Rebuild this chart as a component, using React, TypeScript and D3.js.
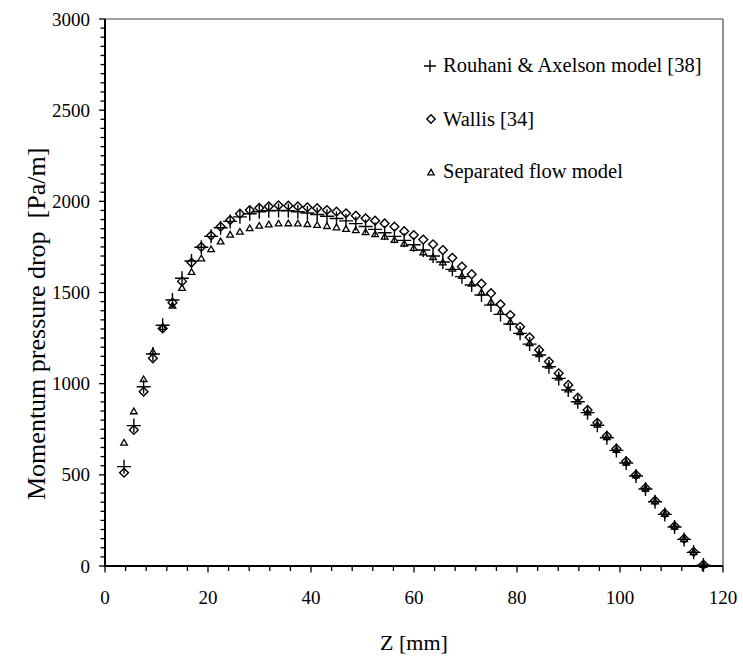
import React from "react";
import * as d3 from "d3";

const zValues: number[] = [
  3.7, 5.6, 7.5, 9.3, 11.2, 13.1, 14.95, 16.8, 18.7, 20.6,
  22.45, 24.3, 26.2, 28.1, 29.95, 31.8, 33.7, 35.6, 37.45, 39.3,
  41.2, 43.1, 44.95, 46.8, 48.7, 50.6, 52.45, 54.3, 56.2, 58.1,
  59.95, 61.8, 63.7, 65.6, 67.45, 69.3, 71.2, 73.1, 74.95, 76.8,
  78.7, 80.6, 82.45, 84.3, 86.2, 88.1, 89.95, 91.8, 93.7, 95.6,
  97.45, 99.3, 101.2, 103.1, 104.95, 106.8, 108.7, 110.6, 112.45, 114.3,
  116.2,
];

const rouhani: number[] = [
  545, 770, 983, 1163, 1320, 1459, 1578, 1673, 1748, 1808,
  1855, 1890, 1915, 1932, 1943, 1948, 1950, 1948, 1943, 1936,
  1928, 1918, 1906, 1893, 1878, 1862, 1846, 1828, 1808, 1786,
  1762, 1733, 1700, 1667, 1627, 1587, 1541, 1486, 1431, 1380,
  1327, 1276, 1217, 1157, 1093, 1029, 965, 901, 841, 772,
  703, 634, 565, 494, 422, 352, 283, 214, 146, 75,
  5,
];

const wallis: number[] = [
  512, 746, 956, 1139, 1303, 1444, 1561, 1664, 1750, 1812,
  1861, 1897, 1932, 1952, 1964, 1972, 1978, 1976, 1972, 1967,
  1962, 1952, 1943, 1934, 1921, 1907, 1894, 1879, 1861, 1836,
  1815, 1790, 1764, 1733, 1690, 1642, 1600, 1548, 1496, 1435,
  1376, 1312, 1254, 1185, 1121, 1057, 993, 923, 856, 785,
  713, 643, 574, 500, 428, 358, 289, 219, 150, 78,
  8,
];

const separated: number[] = [
  676, 848, 1024, 1175, 1311, 1428, 1525, 1612, 1687, 1737,
  1780, 1817, 1833, 1852, 1866, 1873, 1878, 1879, 1878, 1875,
  1870, 1864, 1857, 1848, 1841, 1830, 1819, 1806, 1788, 1768,
  1744, 1720, 1694, 1665, 1630, 1590, 1548, 1500, 1448, 1393,
  1338, 1282, 1222, 1162, 1098, 1034, 968, 903, 842, 775,
  706, 637, 567, 496, 424, 354, 285, 216, 147, 76,
  6,
];

const xTickLabels: number[] = [0, 20, 40, 60, 80, 100, 120];
const yTickLabels: number[] = [0, 500, 1000, 1500, 2000, 2500, 3000];
const legendLabels: string[] = [
  "Rouhani & Axelson model [38]",
  "Wallis [34]",
  "Separated flow model",
];

const W = 743;
const H = 660;
const left = 105;
const right = 723;
const top = 19;
const bottom = 566;
const FONT = '"Liberation Serif", "Times New Roman", Times, serif';

const plusPath = (s: number) => `M${-s},0H${s}M0,${-s}V${s}`;
const diamondPath = (s: number) => `M0,${-s}L${s},0L0,${s}L${-s},0Z`;
const trianglePath = (s: number) =>
  `M0,${-s}L${s * 1.0},${s * 0.72}L${-s * 1.0},${s * 0.72}Z`;

const txt: React.CSSProperties = { fontFamily: FONT };

export default function App() {
  const x = d3.scaleLinear().domain([0, 120]).range([left, right]);
  const y = d3.scaleLinear().domain([0, 3000]).range([bottom, top]);

  const xMinor = d3.range(0, 121, 4);
  const yMinor = d3.range(0, 3001, 50);

  return (
    <svg
      width={W}
      height={H}
      style={{ position: "absolute", left: 0, top: 0, background: "#fff", fontFamily: FONT }}
    >
      <rect x={0} y={0} width={W} height={H} fill="#fff" />
      {/* frame */}
      <line x1={left} x2={right} y1={top} y2={top} stroke="#808080" strokeWidth={1.5} />
      <line x1={right} x2={right} y1={top} y2={bottom} stroke="#555" strokeWidth={1.3} />

      {/* y ticks */}
      {yMinor.map((v) => {
        const major = v % 500 === 0;
        return (
          <line
            key={"ym" + v}
            x1={left - (major ? 6 : 4.5)}
            x2={left}
            y1={y(v)}
            y2={y(v)}
            stroke="#000"
            strokeWidth={1.3}
          />
        );
      })}
      {/* x ticks */}
      {xMinor.map((v) => {
        const major = v % 20 === 0;
        return (
          <line
            key={"xm" + v}
            x1={x(v)}
            x2={x(v)}
            y1={bottom}
            y2={bottom + (major ? 6.5 : 5)}
            stroke="#000"
            strokeWidth={1.3}
          />
        );
      })}
      <line x1={left} x2={left} y1={top} y2={bottom + 1} stroke="#000" strokeWidth={2} />
      <line x1={left - 1} x2={right} y1={bottom} y2={bottom} stroke="#000" strokeWidth={2} />

      {yTickLabels.map((v) => (
        <text key={"yl" + v} x={90} y={y(v) + 6.5} fontSize={19} textAnchor="end" fill="#000" style={txt}>
          {v}
        </text>
      ))}
      {xTickLabels.map((v) => (
        <text key={"xl" + v} x={x(v)} y={604} fontSize={19} textAnchor="middle" fill="#000" style={txt}>
          {v}
        </text>
      ))}

      <text x={(left + right) / 2} y={650} fontSize={22} textAnchor="middle" fill="#000" style={txt}>
        Z [mm]
      </text>
      <text
        transform={`translate(45,500) rotate(-90)`}
        fontSize={26}
        textAnchor="start"
        fill="#000"
        style={{ ...txt, whiteSpace: "pre" }}
      >
        {"Momentum pressure drop  [Pa/m]"}
      </text>

      {/* data */}
      <g fill="none" stroke="#000">
        {zValues.map((z, i) => (
          <path
            key={"p" + i}
            d={plusPath(7)}
            transform={`translate(${x(z)},${y(rouhani[i])})`}
            strokeWidth={1.4}
          />
        ))}
        {zValues.map((z, i) => (
          <path
            key={"d" + i}
            d={diamondPath(4.4)}
            transform={`translate(${x(z)},${y(wallis[i])})`}
            strokeWidth={1.4}
          />
        ))}
        {zValues.map((z, i) => (
          <path
            key={"t" + i}
            d={trianglePath(3.3)}
            transform={`translate(${x(z)},${y(separated[i])})`}
            strokeWidth={1.3}
          />
        ))}
      </g>

      {/* legend */}
      <g fill="none" stroke="#000">
        <path d={plusPath(6)} transform="translate(430,66)" strokeWidth={1.4} />
        <path d={diamondPath(4.2)} transform="translate(431,119)" strokeWidth={1.4} />
        <path d={trianglePath(3.2)} transform="translate(431,172.5)" strokeWidth={1.3} />
      </g>
      {legendLabels.map((t, i) => (
        <text
          key={"lg" + i}
          x={443}
          y={[71.7, 126, 177.7][i]}
          fontSize={20.5}
          fill="#000"
          style={txt}
        >
          {t}
        </text>
      ))}
    </svg>
  );
}
